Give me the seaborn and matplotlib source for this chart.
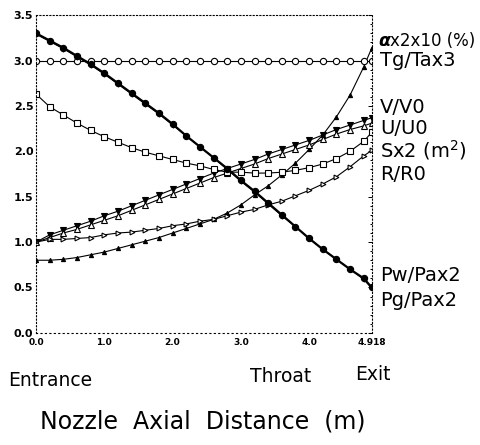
import matplotlib
matplotlib.use("Agg")
import matplotlib.pyplot as plt
import seaborn as sns
import pandas as pd

# ---- data ----
x_pos = [0.0, 0.2, 0.4, 0.6, 0.8, 1.0, 1.2, 1.4, 1.6, 1.8, 2.0, 2.2, 2.4,
         2.6, 2.8, 3.0, 3.2, 3.4, 3.6, 3.8, 4.0, 4.2, 4.4, 4.6, 4.8, 4.918]
alpha_x20 = [0.80, 0.80, 0.81, 0.83, 0.86, 0.89, 0.93, 0.97, 1.01, 1.05, 1.10, 1.15, 1.20,
             1.25, 1.32, 1.41, 1.52, 1.62, 1.74, 1.87, 2.02, 2.18, 2.38, 2.62, 2.93, 3.14]
tg_tax3 = [3.00, 3.00, 3.00, 3.00, 3.00, 3.00, 3.00, 3.00, 3.00, 3.00, 3.00, 3.00, 3.00,
           3.00, 3.00, 3.00, 3.00, 3.00, 3.00, 3.00, 3.00, 3.00, 3.00, 3.00, 3.00, 3.00]
v_v0 = [1.00, 1.08, 1.13, 1.18, 1.23, 1.29, 1.34, 1.40, 1.46, 1.52, 1.58, 1.64, 1.70,
        1.76, 1.81, 1.86, 1.91, 1.97, 2.02, 2.07, 2.12, 2.18, 2.24, 2.29, 2.34, 2.37]
u_u0 = [1.00, 1.05, 1.10, 1.14, 1.19, 1.24, 1.29, 1.35, 1.41, 1.47, 1.53, 1.59, 1.65,
        1.71, 1.76, 1.81, 1.86, 1.92, 1.97, 2.02, 2.07, 2.13, 2.19, 2.24, 2.28, 2.31]
sx2 = [2.63, 2.49, 2.40, 2.31, 2.23, 2.16, 2.10, 2.04, 1.99, 1.95, 1.91, 1.87, 1.84,
       1.80, 1.77, 1.77, 1.76, 1.76, 1.77, 1.79, 1.82, 1.86, 1.92, 2.00, 2.11, 2.21]
r_r0 = [1.00, 1.03, 1.03, 1.04, 1.05, 1.08, 1.10, 1.11, 1.13, 1.15, 1.18, 1.20, 1.23,
        1.25, 1.29, 1.33, 1.36, 1.41, 1.45, 1.51, 1.57, 1.64, 1.72, 1.83, 1.95, 2.01]
pw_pax2 = [3.30, 3.22, 3.14, 3.05, 2.96, 2.86, 2.75, 2.64, 2.53, 2.42, 2.30, 2.17, 2.05,
           1.93, 1.81, 1.68, 1.56, 1.43, 1.30, 1.17, 1.04, 0.92, 0.81, 0.70, 0.60, 0.50]
pg_pax2 = [3.29, 3.21, 3.13, 3.04, 2.95, 2.85, 2.74, 2.63, 2.52, 2.41, 2.29, 2.17, 2.05,
           1.93, 1.80, 1.67, 1.55, 1.42, 1.29, 1.17, 1.04, 0.92, 0.81, 0.70, 0.59, 0.49]

x_ticks = [0.0, 1.0, 2.0, 3.0, 4.0, 4.918]
x_tick_labels = ["0.0", "1.0", "2.0", "3.0", "4.0", "4.918"]
y_ticks = [0.0, 0.5, 1.0, 1.5, 2.0, 2.5, 3.0, 3.5]
y_tick_labels = ["0.0", "0.5", "1.0", "1.5", "2.0", "2.5", "3.0", "3.5"]

sns.set_style("white")
plt.rcParams['font.family'] = ['DejaVu Sans']
plt.rcParams['text.color'] = 'black'

fig = plt.figure(figsize=(4.81, 4.45), dpi=100)
ax = fig.add_axes([0.075, 0.252, 0.698, 0.714])

series = [
    (alpha_x20, dict(marker="^", markersize=3, color="black", linewidth=0.8,
                     markerfacecolor="black")),
    (tg_tax3, dict(marker="o", markersize=4.5, color="black", linewidth=0.8,
                   markerfacecolor="white")),
    (v_v0, dict(marker="v", markersize=4, color="black", linewidth=0.8,
                markerfacecolor="black")),
    (u_u0, dict(marker="^", markersize=4, color="black", linewidth=0.8,
                markerfacecolor="white")),
    (sx2, dict(marker="s", markersize=4, color="black", linewidth=0.8,
               markerfacecolor="white")),
    (r_r0, dict(marker=">", markersize=3.5, color="black", linewidth=0.8,
                markerfacecolor="white")),
    (pw_pax2, dict(marker="o", markersize=4.5, color="black", linewidth=1.6,
                   markerfacecolor="black")),
    (pg_pax2, dict(marker="D", markersize=2.5, color="black", linewidth=0.8,
                   markerfacecolor="black")),
]
for vals, kw in series:
    df = pd.DataFrame({"x": x_pos, "y": vals})
    sns.lineplot(data=df, x="x", y="y", ax=ax, markeredgewidth=0.8,
                 markeredgecolor="black", **kw)

ax.set_xlim(0, 4.918)
ax.set_ylim(0, 3.5)
ax.set_xlabel("")
ax.set_ylabel("")
ax.set_xticks(x_ticks)
ax.set_xticklabels(x_tick_labels, fontsize=6.5, fontweight="bold")
ax.set_yticks(y_ticks)
ax.set_yticklabels(y_tick_labels, fontsize=8, fontweight="bold")
ax.set_xticks([v * 0.2 for v in range(25)], minor=True)
ax.set_yticks([v * 0.1 for v in range(36)], minor=True)
ax.tick_params(axis="both", which="both", direction="in", length=3, width=0.7,
               colors="black", labelcolor="black", pad=2)
ax.tick_params(axis="x", which="major", pad=4)
ax.tick_params(axis="y", which="minor", length=1.5)
ax.tick_params(axis="x", which="minor", length=2)
ax.tick_params(right=True, which="both")

for side in ["top", "right", "left"]:
    ax.spines[side].set_linestyle((0, (1, 2)))
    ax.spines[side].set_linewidth(0.8)
    ax.spines[side].set_color("black")
ax.spines["bottom"].set_linestyle((0, (1, 3)))
ax.spines["bottom"].set_linewidth(0.8)
ax.spines["bottom"].set_color("black")

# right-side labels
lab_fs = 14
ax.text(5.02, 3.22, "α", fontsize=12.5, fontweight="bold", fontstyle="italic",
        va="center", ha="left", clip_on=False, color="black")
ax.text(5.19, 3.22, "x2x10 (%)", fontsize=12, va="center", ha="left",
        clip_on=False, color="black")
right_labels = [(3.00, "Tg/Tax3"), (2.48, "V/V0"), (2.25, "U/U0"),
                (2.01, "Sx2 (m$^2$)"), (1.74, "R/R0"), (0.63, "Pw/Pax2"), (0.36, "Pg/Pax2")]
for yv, txt in right_labels:
    ax.text(5.04, yv, txt, fontsize=lab_fs, va="center", ha="left",
            clip_on=False, color="black")

fig.text(8 / 481, 1 - 381 / 445, "Entrance", fontsize=13.5, va="center", ha="left")
fig.text(250 / 481, 1 - 377 / 445, "Throat", fontsize=13.5, va="center", ha="left")
fig.text(355 / 481, 1 - 374 / 445, "Exit", fontsize=13.5, va="center", ha="left")
fig.text(40 / 481, 1 - 421 / 445, "Nozzle  Axial  Distance  (m)", fontsize=17,
         va="center", ha="left")

fig.savefig("out.png", dpi=100)
